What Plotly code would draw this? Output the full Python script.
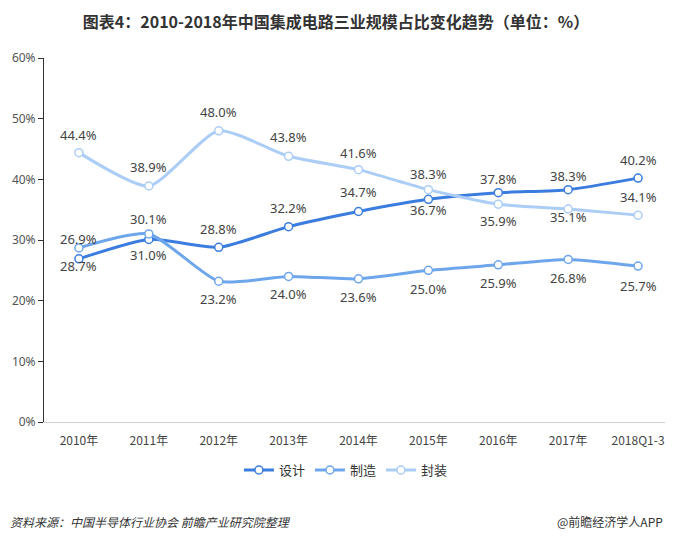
import plotly.graph_objects as go

categories = ["2010年", "2011年", "2012年", "2013年", "2014年", "2015年", "2016年", "2017年", "2018Q1-3"]
design = [26.9, 30.1, 28.8, 32.2, 34.7, 36.7, 37.8, 38.3, 40.2]
manufacture = [28.7, 31.0, 23.2, 24.0, 23.6, 25.0, 25.9, 26.8, 25.7]
packaging = [44.4, 38.9, 48.0, 43.8, 41.6, 38.3, 35.9, 35.1, 34.1]
series_names = ["设计", "制造", "封装"]
y_ticks = [0, 10, 20, 30, 40, 50, 60]

colors = ["#3a7ddf", "#6ea6ec", "#abcdf6"]
# label offsets (px) per point: negative = above
offsets = [
    [-20, -20, -18, -19, -19, 11, -14, -14, -18],
    [18, 21, 18, 18, 18, 19, 18, 19, 20],
    [-18, -19, -19, -19, -17, -16, 17, 8, -18],
]

W, H = 665, 532  # page body has an 8px margin

fig = go.Figure()
all_series = [design, manufacture, packaging]
for name, vals, col in zip(series_names, all_series, colors):
    fig.add_trace(go.Scatter(
        x=categories, y=vals, name=name, mode="lines+markers",
        line=dict(color=col, width=3, shape="spline", smoothing=0.6),
        marker=dict(size=8, color="white", line=dict(color=col, width=1.5)),
        hoverinfo="skip",
    ))

annotations = []
for vals, offs in zip(all_series, offsets):
    for c, v, o in zip(categories, vals, offs):
        annotations.append(dict(
            x=c, y=v, xref="x", yref="y", text=f"{v:.1f}%", showarrow=False,
            yshift=-o, font=dict(size=13, color="#444", family="Noto Sans, DejaVu Sans"),
        ))

annotations.append(dict(
    x=-0.057, y=-0.272, xref="paper", yref="paper", xanchor="left", yanchor="middle",
    text="<i>资料来源：中国半导体行业协会 前瞻产业研究院整理</i>", showarrow=False,
    font=dict(size=12, color="#333", family="Noto Sans CJK SC"),
))
annotations.append(dict(
    x=0.987, y=-0.272, xref="paper", yref="paper", xanchor="right", yanchor="middle",
    text="@前瞻经济学人APP", showarrow=False,
    font=dict(size=12, color="#333", family="Noto Sans CJK SC"),
))

fig.update_layout(
    width=W, height=H,
    margin=dict(l=36, r=0, t=50, b=118, autoexpand=False),
    paper_bgcolor="white", plot_bgcolor="white",
    title=dict(text="<b>图表4：2010-2018年中国集成电路三业规模占比变化趋势（单位：%）</b>",
               x=(336 - 8) / W, xref="container", xanchor="center",
               y=1 - 14 / H, yref="container", yanchor="middle",
               font=dict(size=16, color="#333", family="Noto Sans CJK SC")),
    showlegend=True,
    legend=dict(orientation="h", x=0.48, xanchor="center", y=-0.132, yanchor="middle",
                font=dict(size=13, color="#333", family="Noto Sans CJK SC"),
                itemwidth=30, tracegroupgap=0),
    annotations=annotations,
    font=dict(family="Noto Sans CJK SC", color="#555"),
)
fig.update_xaxes(
    type="category", range=[-0.5, 8.5], showline=True, linecolor="#d0d0d0", linewidth=1,
    ticks="", showgrid=False, zeroline=False, ticklabelstandoff=8,
    tickfont=dict(size=12, color="#444", family="Noto Sans CJK SC"),
)
fig.update_yaxes(
    range=[0, 60], tickvals=y_ticks, ticktext=[f"{t}%" for t in y_ticks],
    showline=True, linecolor="#333", linewidth=1, ticks="outside", ticklen=5, tickcolor="#333",
    showgrid=False, zeroline=False,
    tickfont=dict(size=12, color="#555", family="Noto Sans, DejaVu Sans"),
)

fig.write_html("out.html")
